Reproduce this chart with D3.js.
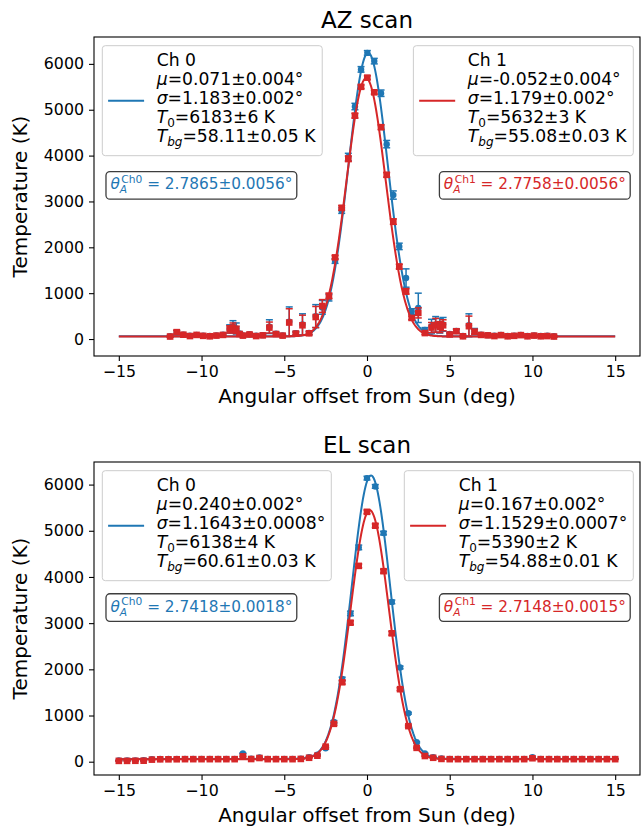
<!DOCTYPE html>
<html>
<head>
<meta charset="utf-8">
<script src="https://cdn.jsdelivr.net/npm/d3@7"></script>
<style>
body { margin: 0; background: #fff; }
svg text { font-family: "DejaVu Sans", sans-serif; white-space: pre; }
</style>
</head>
<body>
<svg id="fig" width="644" height="830"></svg>
<script>
// ---- AZ scan data (offset deg, temperature K, error K) ----
var azX = [-11.9, -11.5, -11.1, -10.7, -10.3, -9.9, -9.5, -9.1, -8.7, -8.3, -8.1, -7.9, -7.7, -7.5, -7.1, -6.7,
           -6.3, -5.9, -5.5, -5.1, -4.7, -4.3, -3.9, -3.5, -3.1, -2.7, -2.3, -1.93, -1.53, -1.13, -0.73, -0.36,
           0.02, 0.44, 0.85, 1.19, 1.59, 1.95, 2.36, 2.70, 3.10, 3.50, 3.90, 4.15, 4.40, 4.60, 5.0, 5.4, 5.8,
           6.16, 6.5, 6.9, 7.3, 7.7, 8.1, 8.5, 8.9, 9.3, 9.7, 10.1, 10.5, 10.9, 11.3];
var azT0 = [60, 140, 95, 70, 90, 75, 65, 80, 95, 220, 270, 230, 120, 80, 105, 70,
            85, 270, 115, 80, 380, 125, 320, 130, 500, 690, 900, 1700, 2800, 3970, 5070, 5880,
            6240, 6060, 5360, 4250, 3140, 2020, 1330, 600, 680, 200, 280, 320, 290, 320, 110, 175, 65,
            300, 170, 95, 85, 70, 90, 65, 75, 90, 65, 80, 65, 70, 60];
var azE0 = [20, 45, 25, 20, 25, 20, 20, 20, 25, 90, 130, 120, 40, 25, 30, 20,
            25, 150, 40, 25, 320, 40, 230, 40, 250, 150, 70, 50, 60, 80, 70, 60,
            50, 60, 70, 80, 90, 70, 200, 60, 320, 50, 150, 170, 160, 150, 30, 50, 20,
            250, 60, 25, 20, 20, 25, 20, 20, 25, 20, 20, 20, 20, 20];
var azT1 = [55, 150, 95, 65, 90, 70, 60, 75, 90, 210, 250, 200, 110, 75, 100, 65,
            80, 250, 110, 75, 360, 120, 300, 125, 480, 720, 940, 1780, 2860, 3930, 4870, 5500,
            5700, 5380, 4620, 3580, 2560, 1580, 1040, 460, 570, 130, 250, 300, 260, 300, 100, 170, 60,
            280, 160, 90, 80, 65, 85, 60, 70, 85, 60, 75, 60, 65, 55];
var azE1 = [15, 40, 20, 15, 20, 15, 15, 15, 20, 80, 100, 80, 30, 20, 25, 15,
            20, 120, 30, 20, 300, 30, 220, 30, 230, 140, 60, 40, 50, 60, 50, 40,
            40, 40, 50, 50, 60, 50, 60, 40, 110, 30, 110, 150, 120, 120, 25, 40, 15,
            220, 50, 20, 15, 15, 20, 15, 15, 20, 15, 15, 15, 15, 15];

// ---- EL scan data ----
var elX = [-15, -14.5, -14, -13.5, -13, -12.5, -12, -11.5, -11, -10.5, -10, -9.5, -9, -8.5, -8, -7.5,
           -7, -6.5, -6, -5.5, -5, -4.5, -4, -3.5, -3, -2.5, -2, -1.5, -1, -0.5, 0, 0.5,
           1, 1.5, 2, 2.5, 3, 3.5, 4, 4.5, 5, 5.5, 6, 6.5, 7, 7.5, 8, 8.5,
           9, 9.5, 10, 10.5, 11, 11.5, 12, 12.5, 13, 13.5, 14, 14.5, 15];
var elT0 = [25, 25, 28, 30, 55, 60, 62, 62, 62, 62, 62, 62, 62, 62, 62, 180,
            65, 90, 62, 62, 62, 62, 65, 100, 150, 290, 860, 1790, 3210, 4640, 6140, 5960,
            4950, 3460, 2040, 1050, 420, 180, 100, 70, 62, 62, 62, 62, 62, 62, 62, 62,
            62, 62, 95, 62, 62, 62, 62, 62, 62, 62, 62, 62, 62];
var elE0 = [5, 5, 5, 5, 5, 5, 5, 5, 5, 5, 5, 5, 5, 5, 5, 10,
            5, 5, 5, 5, 5, 5, 5, 8, 10, 20, 30, 40, 50, 50, 40, 40,
            40, 40, 30, 20, 15, 10, 5, 5, 5, 5, 5, 5, 5, 5, 5, 5,
            5, 5, 8, 5, 5, 5, 5, 5, 5, 5, 5, 5, 5];
var elT1 = [18, 18, 20, 22, 45, 52, 52, 53, 55, 55, 55, 55, 55, 55, 55, 115,
            58, 80, 55, 55, 55, 55, 60, 85, 130, 325, 820, 1720, 3010, 4240, 5410, 5110,
            4125, 2780, 1570, 770, 300, 123, 85, 60, 55, 55, 55, 55, 55, 55, 55, 55,
            55, 55, 75, 55, 55, 55, 55, 55, 55, 55, 55, 55, 55];
var elE1 = [5, 5, 5, 5, 5, 5, 5, 5, 5, 5, 5, 5, 5, 5, 5, 10,
            5, 5, 5, 5, 5, 5, 5, 8, 10, 20, 30, 40, 40, 40, 40, 40,
            40, 40, 30, 20, 15, 10, 5, 5, 5, 5, 5, 5, 5, 5, 5, 5,
            5, 5, 8, 5, 5, 5, 5, 5, 5, 5, 5, 5, 5];

// ---- fit parameters [Ch0, Ch1] ----
var azMu = [0.071, -0.052], azSigma = [1.183, 1.179], azAmp = [6183, 5632], azBg = [58.11, 55.08];
var elMu = [0.240, 0.167], elSigma = [1.1643, 1.1529], elAmp = [6138, 5390], elBg = [60.61, 54.88];

// legend texts as printed
var azMuTxt = ["=0.071±0.004°", "=-0.052±0.004°"];
var azSigTxt = ["=1.183±0.002°", "=1.179±0.002°"];
var azAmpTxt = ["=6183±6 K", "=5632±3 K"];
var azBgTxt = ["=58.11±0.05 K", "=55.08±0.03 K"];
var azBeamTxt = [" = 2.7865±0.0056°", " = 2.7758±0.0056°"];
var elMuTxt = ["=0.240±0.002°", "=0.167±0.002°"];
var elSigTxt = ["=1.1643±0.0008°", "=1.1529±0.0007°"];
var elAmpTxt = ["=6138±4 K", "=5390±2 K"];
var elBgTxt = ["=60.61±0.03 K", "=54.88±0.01 K"];
var elBeamTxt = [" = 2.7418±0.0018°", " = 2.7148±0.0015°"];

var xTicks = [-15, -10, -5, 0, 5, 10, 15];
var yTicks = [0, 1000, 2000, 3000, 4000, 5000, 6000];
var chNames = ["Ch 0", "Ch 1"];
var colors = ["#1f77b4", "#d62728"];

var TICK_FS = 15.8, LEG_FS = 17.2, BEAM_FS = 15.3;
var svg = d3.select('#fig');

var panels = [
  { title: "AZ scan", top: 37, bottom: 356, ydom: [-370, 6586],
    x: azX, t: [azT0, azT1], e: [azE0, azE1],
    mu: azMu, sig: azSigma, amp: azAmp, bg: azBg,
    txt: [azMuTxt, azSigTxt, azAmpTxt, azBgTxt], beam: azBeamTxt },
  { title: "EL scan", top: 462, bottom: 775, ydom: [-288, 6489],
    x: elX, t: [elT0, elT1], e: [elE0, elE1],
    mu: elMu, sig: elSigma, amp: elAmp, bg: elBg,
    txt: [elMuTxt, elSigTxt, elAmpTxt, elBgTxt], beam: elBeamTxt }
];

var left = 94, right = 640;

panels.forEach(drawPanel);

// one line of text with italic parts and subscripts
function richText(g, x, y, parts, fs) {
  var t = g.append('text').attr('x', x).attr('y', y).attr('font-size', fs).attr('fill', '#000');
  var shift = 0;
  parts.forEach(function(p) {
    var s = t.append('tspan').text(p.t);
    var target = p.sub ? 4 : 0;
    if (target !== shift) { s.attr('dy', target - shift); shift = target; }
    if (p.sub) s.attr('font-size', fs * 0.7);
    if (p.it) s.attr('font-style', 'italic');
  });
  return t;
}

function drawPanel(p) {
  var x = d3.scaleLinear().domain([-16.5, 16.5]).range([left, right]);
  var y = d3.scaleLinear().domain(p.ydom).range([p.bottom, p.top]);
  var g = svg.append('g');

  // axes
  var xa = g.append('g').attr('transform', 'translate(0,' + p.bottom + ')')
    .call(d3.axisBottom(x).tickValues(xTicks).tickSize(5).tickPadding(5).tickFormat(d3.format('d')));
  var ya = g.append('g').attr('transform', 'translate(' + left + ',0)')
    .call(d3.axisLeft(y).tickValues(yTicks).tickSize(5).tickPadding(5).tickFormat(d3.format('d')));
  [xa, ya].forEach(function(a) {
    a.select('.domain').remove();
    a.selectAll('.tick line').attr('stroke', '#000').attr('stroke-width', 1.1);
    a.selectAll('.tick text').attr('font-size', TICK_FS).attr('font-family', '"DejaVu Sans", sans-serif').attr('fill', '#000');
  });

  g.append('text').attr('x', (left + right) / 2).attr('y', p.top - 9)
    .attr('text-anchor', 'middle').attr('font-size', 23).text(p.title);
  g.append('text').attr('x', (left + right) / 2).attr('y', p.bottom + 47)
    .attr('text-anchor', 'middle').attr('font-size', 20).text('Angular offset from Sun (deg)');
  g.append('text').attr('transform', 'translate(27,' + ((p.top + p.bottom) / 2) + ') rotate(-90)')
    .attr('text-anchor', 'middle').attr('font-size', 20).text('Temperature (K)');

  // data + fit for each channel
  var fitX = d3.range(-15, 15.0001, 0.05);
  [0, 1].forEach(function(c) {
    var col = colors[c];
    var pts = p.x.map(function(v, i) { return { x: v, t: p.t[c][i], e: p.e[c][i] }; });
    var dg = g.append('g');
    dg.selectAll('line.eb').data(pts).enter().append('line')
      .attr('x1', d => x(d.x)).attr('x2', d => x(d.x))
      .attr('y1', d => y(d.t - d.e)).attr('y2', d => y(d.t + d.e))
      .attr('stroke', col).attr('stroke-width', 1.5);
    [1, -1].forEach(function(s) {
      dg.selectAll('line.cap' + s).data(pts).enter().append('line')
        .attr('x1', d => x(d.x) - 3.5).attr('x2', d => x(d.x) + 3.5)
        .attr('y1', d => y(d.t + s * d.e)).attr('y2', d => y(d.t + s * d.e))
        .attr('stroke', col).attr('stroke-width', 1.5);
    });
    if (c === 0) {
      dg.selectAll('circle').data(pts).enter().append('circle')
        .attr('cx', d => x(d.x)).attr('cy', d => y(d.t)).attr('r', 3.2).attr('fill', col);
    } else {
      dg.selectAll('rect').data(pts).enter().append('rect')
        .attr('x', d => x(d.x) - 3.3).attr('y', d => y(d.t) - 3.3)
        .attr('width', 6.6).attr('height', 6.6).attr('fill', col);
    }
    var fit = d3.line()
      .x(d => x(d))
      .y(d => y(p.bg[c] + p.amp[c] * Math.exp(-Math.pow(d - p.mu[c], 2) / (2 * p.sig[c] * p.sig[c]))));
    g.append('path').datum(fitX).attr('d', fit)
      .attr('fill', 'none').attr('stroke', col).attr('stroke-width', 2);
  });

  // spines
  g.append('rect').attr('x', left).attr('y', p.top).attr('width', right - left)
    .attr('height', p.bottom - p.top).attr('fill', 'none').attr('stroke', '#000').attr('stroke-width', 1.1);

  // legends
  [0, 1].forEach(function(c) {
    var lg = g.append('g');
    var by = p.top + 8.7;
    var lines = [
      [{ t: chNames[c] }],
      [{ t: 'μ', it: true }, { t: p.txt[0][c] }],
      [{ t: 'σ', it: true }, { t: p.txt[1][c] }],
      [{ t: 'T', it: true }, { t: '0', sub: true }, { t: p.txt[2][c] }],
      [{ t: 'T', it: true }, { t: 'bg', sub: true, it: true }, { t: p.txt[3][c] }]
    ];
    var box = lg.append('rect');
    var tw = 0, texts = [];
    lines.forEach(function(l, i) {
      var t = richText(lg, 0, by + 20.3 + i * 19, l, LEG_FS);
      texts.push(t);
      tw = Math.max(tw, t.node().getBBox().width);
    });
    var bw = tw + 54.4 + 6, bh = 110;
    var bx = c === 0 ? left + 8.3 : right - 6.7 - bw;
    texts.forEach(t => t.attr('x', bx + 54.4));
    box.attr('x', bx).attr('y', by).attr('width', bw).attr('height', bh).attr('rx', 3)
      .attr('fill', '#fff').attr('fill-opacity', 0.8).attr('stroke', '#ccc').attr('stroke-width', 1);
    lg.append('line').attr('x1', bx + 5.8).attr('x2', bx + 41.8)
      .attr('y1', by + bh / 2).attr('y2', by + bh / 2)
      .attr('stroke', colors[c]).attr('stroke-width', 2.1);

    // beam width label: theta with stacked sub/superscript, one text element
    var bg = g.append('g');
    var base = p.bottom - 0.535 * (p.bottom - p.top) + 4;
    var probe = bg.append('text').attr('font-size', BEAM_FS * 0.7).attr('font-style', 'italic').text('A');
    var wA = probe.node().getComputedTextLength();
    probe.remove();
    var bt = bg.append('text').attr('x', 0).attr('y', base).attr('font-size', BEAM_FS).attr('fill', colors[c]);
    bt.append('tspan').attr('font-style', 'italic').text('θ');
    bt.append('tspan').attr('font-style', 'italic').attr('font-size', BEAM_FS * 0.7).attr('dy', 4).text('A');
    bt.append('tspan').attr('font-size', BEAM_FS * 0.7).attr('dx', -wA + 1.5).attr('dy', -10.5).text('Ch' + c);
    bt.append('tspan').attr('dy', 6.5).text(p.beam[c]);
    var bb = bg.node().getBBox();
    var tx = c === 0 ? left + 0.03 * (right - left) : right - 0.026 * (right - left) - bb.width;
    bg.attr('transform', 'translate(' + tx + ',0)');
    bg.insert('rect', ':first-child').attr('x', bb.x - 4.4).attr('y', base - 17.8)
      .attr('width', bb.width + 8.8).attr('height', 27.6).attr('rx', 4)
      .attr('fill', '#fff').attr('stroke', '#3d3d3d').attr('stroke-width', 1.3);
  });
}
</script>
</body>
</html>
